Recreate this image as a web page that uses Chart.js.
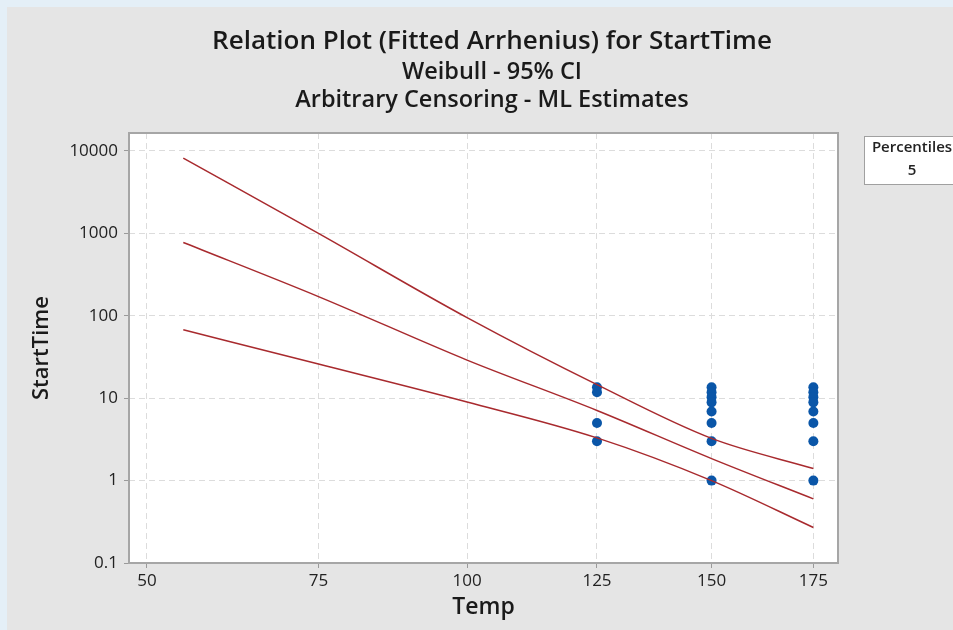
<!DOCTYPE html>
<html>
<head>
<meta charset="utf-8">
<title>Relation Plot (Fitted Arrhenius) for StartTime</title>
<script src="https://cdn.jsdelivr.net/npm/chart.js@4/dist/chart.umd.min.js"></script>
<style>
  html, body { margin: 0; padding: 0; background: #e4eff7; overflow: hidden; }
  #wrap { position: absolute; left: 7px; top: 7px; width: 946px; height: 623px; background: #e5e5e5; }
  canvas { display: block; }
</style>
</head>
<body>
<div id="wrap"><canvas id="chart" width="946" height="623"></canvas></div>
<script>
// fitted 5th percentile and 95% CI
const fitTemps = [55, 75, 100, 125, 150, 175];
const upperCI = [8200, 1000, 95, 14.6, 3.25, 1.4];
const fitted = [775, 171, 29, 7.1, 1.85, 0.6];
const lowerCI = [67.5, 26, 9, 3.3, 1.0, 0.27];

// observed start times at each test temperature
const temps125 = 125;
const startTimes125 = [13.6, 11.8, 5.0, 3.0];
const temps150 = 150;
const startTimes150 = [13.6, 11.8, 10.3, 8.9, 6.9, 5.0, 3.0, 1.0];
const temps175 = 175;
const startTimes175 = [13.6, 11.8, 10.3, 8.9, 6.9, 5.0, 3.0, 1.0];

const xTicks = [50, 75, 100, 125, 150, 175];
const yTicks = [0.1, 1, 10, 100, 1000, 10000];
const yTickLabels = ["0.1", "1", "10", "100", "1000", "10000"];

const FONT = "'Open Sans', 'Noto Sans', sans-serif";

// Arrhenius temperature axis: position is linear in -1/(T + 273.15)
const inv = t => -1 / (t + 273.15);
class ArrheniusScale extends Chart.LinearScale {
  getPixelForValue(value) {
    const a = inv(this.min), b = inv(this.max);
    return this.getPixelForDecimal((inv(value) - a) / (b - a));
  }
  getValueForPixel(pixel) {
    const a = inv(this.min), b = inv(this.max);
    const d = this.getDecimalForPixel(pixel);
    return -1 / (a + d * (b - a)) - 273.15;
  }
}
ArrheniusScale.id = "arrhenius";
ArrheniusScale.defaults = Chart.LinearScale.defaults;
Chart.register(ArrheniusScale);

const pts = (xs, ys) => ys.map((y, i) => ({ x: Array.isArray(xs) ? xs[i] : xs, y: y }));

const lineStyle = {
  borderColor: "#a82a2e",
  borderWidth: 1.5,
  pointRadius: 0,
  cubicInterpolationMode: "monotone",
  fill: false,
};
const dotStyle = {
  showLine: false,
  pointRadius: 5,
  pointBackgroundColor: "#0a56a8",
  pointBorderWidth: 0,
  borderColor: "#0a56a8",
};

const plotBg = {
  id: "plotBg",
  beforeDraw(chart) {
    const { ctx, chartArea: a } = chart;
    ctx.save();
    ctx.fillStyle = "#ffffff";
    ctx.fillRect(a.left, a.top, a.right - a.left, a.bottom - a.top);
    ctx.restore();
  },
  afterDraw(chart) {
    const { ctx, chartArea: a } = chart;
    ctx.save();
    ctx.strokeStyle = "#a6a6a6";
    ctx.lineWidth = 2;
    ctx.strokeRect(a.left, a.top, a.right - a.left, a.bottom - a.top);

    // Minitab style legend table
    ctx.fillStyle = "#ffffff";
    ctx.fillRect(857, 129, 110, 48);
    ctx.strokeStyle = "#a0a0a0";
    ctx.lineWidth = 1;
    ctx.strokeRect(857.5, 129.5, 110, 48);
    ctx.fillStyle = "#222222";
    ctx.font = "600 15px " + FONT;
    ctx.textAlign = "center";
    ctx.textBaseline = "middle";
    ctx.fillText("Percentiles", 905, 141);
    ctx.fillText("5", 905, 164);
    ctx.restore();
  },
};

new Chart(document.getElementById("chart"), {
  type: "line",
  data: {
    datasets: [
      { label: "Upper CI", data: pts(fitTemps, upperCI), ...lineStyle },
      { label: "5", data: pts(fitTemps, fitted), ...lineStyle },
      { label: "Lower CI", data: pts(fitTemps, lowerCI), ...lineStyle },
      { label: "125", data: pts(temps125, startTimes125), ...dotStyle },
      { label: "150", data: pts(temps150, startTimes150), ...dotStyle },
      { label: "175", data: pts(temps175, startTimes175), ...dotStyle },
    ],
  },
  options: {
    responsive: false,
    animation: false,
    layout: { padding: { left: 24, right: 0, top: 0, bottom: 0 } },
    plugins: {
      legend: { display: false },
      tooltip: { enabled: false },
      title: {
        display: true,
        text: "Relation Plot (Fitted Arrhenius) for StartTime",
        color: "#1a1a1a",
        font: { family: FONT, size: 26, weight: "600", lineHeight: 1.2 },
        padding: { top: 19.4, bottom: 0 },
      },
      subtitle: {
        display: true,
        text: ["Weibull - 95% CI", "Arbitrary Censoring - ML Estimates"],
        color: "#1a1a1a",
        font: { family: FONT, size: 23.5, weight: "600", lineHeight: "28px" },
        padding: { top: 0.4, bottom: 19 },
      },
    },
    scales: {
      x: {
        type: "arrhenius",
        min: 47.6,
        max: 181.5,
        bounds: "data",
        afterBuildTicks: axis => { axis.ticks = xTicks.map(v => ({ value: v })); },
        afterFit: axis => { axis.height = 67; },
        ticks: {
          color: "#222222",
          font: { family: FONT, size: 17 },
          padding: 3,
          maxRotation: 0,
          callback: v => String(v),
        },
        grid: {
          color: "#dcdcdc",
          tickColor: "#9a9a9a",
          tickLength: 5,
          tickBorderDash: [],
        },
        border: { display: false, dash: [6, 4] },
        title: {
          display: true,
          text: "Temp",
          color: "#1a1a1a",
          font: { family: FONT, size: 23, weight: "600", lineHeight: 1.2 },
          padding: { top: 0, bottom: 9 },
        },
      },
      y: {
        type: "logarithmic",
        min: 0.1,
        max: 16520,
        bounds: "data",
        afterBuildTicks: axis => { axis.ticks = yTicks.map(v => ({ value: v })); },
        afterFit: axis => { axis.width = 98; },
        ticks: {
          color: "#222222",
          font: { family: FONT, size: 17 },
          padding: 6,
          callback: v => yTickLabels[yTicks.indexOf(v)] ?? "",
        },
        grid: {
          color: "#dcdcdc",
          tickColor: "#9a9a9a",
          tickLength: 5,
          tickBorderDash: [],
        },
        border: { display: false, dash: [6, 4] },
        title: {
          display: true,
          text: "StartTime",
          color: "#1a1a1a",
          font: { family: FONT, size: 22, weight: "600", lineHeight: 1 },
          padding: { top: 0, bottom: 0 },
        },
      },
      // empty right-hand strip that leaves room for the legend table
      legendSpace: {
        type: "linear",
        position: "right",
        display: true,
        ticks: { display: false },
        grid: { display: false },
        border: { display: false },
        afterFit: axis => { axis.width = 115; },
      },
    },
  },
  plugins: [plotBg],
});
</script>
</body>
</html>
